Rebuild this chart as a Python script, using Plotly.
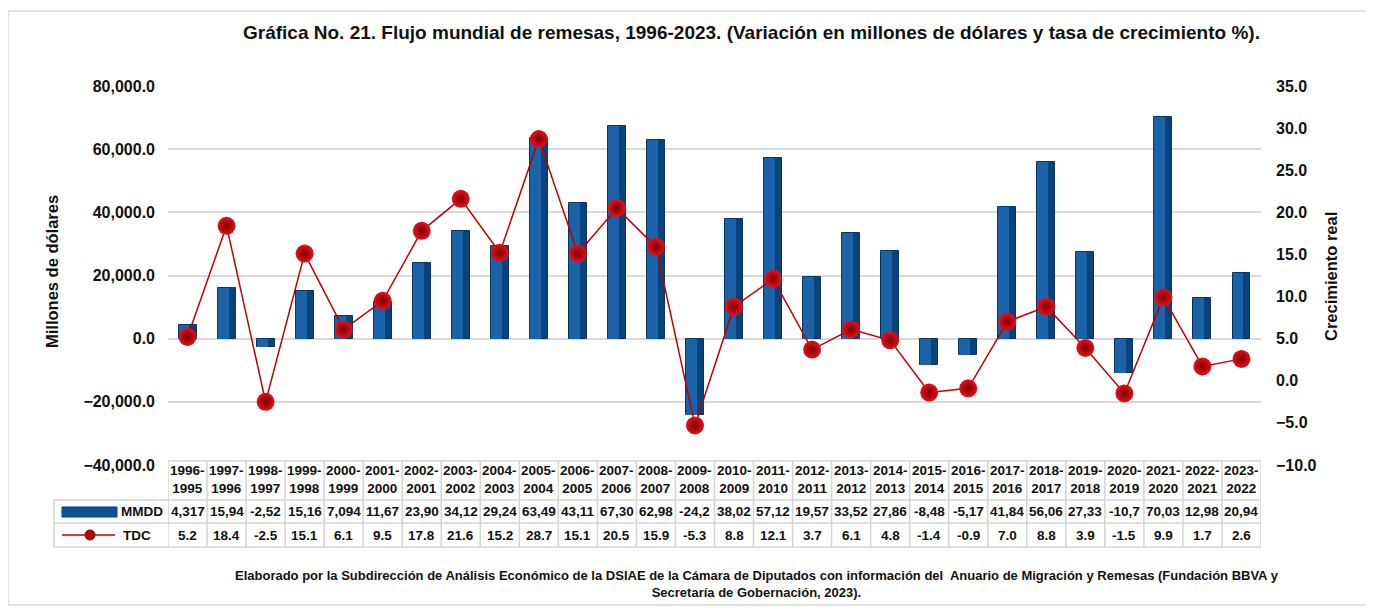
import plotly.graph_objects as go

# periodos, remesas (millones de dolares) y tasa de crecimiento
periodos = ["1996-1995", "1997-1996", "1998-1997", "1999-1998", "2000-1999",
            "2001-2000", "2002-2001", "2003-2002", "2004-2003", "2005-2004",
            "2006-2005", "2007-2006", "2008-2007", "2009-2008", "2010-2009",
            "2011-2010", "2012-2011", "2013-2012", "2014-2013", "2015-2014",
            "2016-2015", "2017-2016", "2018-2017", "2019-2018", "2020-2019",
            "2021-2020", "2022-2021", "2023-2022"]
mmdd = [4317, 15945, -2525, 15165, 7094, 11675, 23905, 34125, 29245, 63495,
        43115, 67305, 62985, -24250, 38025, 57125, 19575, 33525, 27865, -8485,
        -5175, 41845, 56065, 27335, -10750, 70035, 12985, 20945]
tdc = [5.2, 18.4, -2.5, 15.1, 6.1, 9.5, 17.8, 21.6, 15.2, 28.7, 15.1, 20.5,
       15.9, -5.3, 8.8, 12.1, 3.7, 6.1, 4.8, -1.4, -0.9, 7.0, 8.8, 3.9, -1.5,
       9.9, 1.7, 2.6]

titulo = ("Gráfica No. 21. Flujo mundial de remesas, 1996-2023. (Variación en "
          "millones de dólares y tasa de crecimiento %).")
fuente = ("Elaborado por la Subdirección de Análisis Económico de la DSIAE de la "
          "Cámara de Diputados con información del  Anuario de Migración y "
          "Remesas (Fundación BBVA y<br>Secretaría de Gobernación, 2023).")

# la pagina deja 8px de margen en el body, se compensa aqui
OFF = 8
W, H = 1374 - OFF, 608 - OFF
L, R, T, B = 168, 1261, 86, 465  # en pixeles de la captura
FONT = "Arial, Liberation Sans, sans-serif"
GRID = "#d9d9d9"
TBL = "#d4d4d4"


def px(x):
    return (x - L) / (R - L)


def py(y):
    return (B - y) / (B - T)


def nota(x, y, text, size, xref="paper", **kw):
    d = dict(x=x, y=py(y), xref=xref, yref="paper", text=f"<b>{text}</b>",
             showarrow=False, xanchor="center", yanchor="middle",
             font=dict(family=FONT, size=size, color="#111"))
    d.update(kw)
    return d


fig = go.Figure()

# barras con efecto de relieve: base oscura + franja clara
fig.add_trace(go.Bar(x=periodos, y=mmdd, width=0.46, offset=-0.23,
                     marker=dict(color="#0a437a", line=dict(color="#083764", width=1)),
                     name="MMDD", showlegend=False))
fig.add_trace(go.Bar(x=periodos, y=mmdd, width=0.28, offset=-0.23,
                     marker=dict(color="#1a63a8", line=dict(width=0)),
                     hoverinfo="skip", showlegend=False))
fig.add_trace(go.Scatter(x=periodos, y=tdc, yaxis="y2", mode="lines+markers",
                         line=dict(color="#c00000", width=1.5),
                         marker=dict(size=18, color="#e3121a",
                                     gradient=dict(type="radial", color="#7d0000"),
                                     line=dict(width=0)),
                         name="TDC", showlegend=False))

shapes = []
ann = []

# marco exterior
shapes.append(dict(type="rect", xref="paper", yref="paper",
                   x0=px(8), x1=px(1367), y0=py(605), y1=py(11),
                   line=dict(color="#d9d9d9", width=1.5), layer="below"))

# tabla de datos
rows = [461, 500, 523, 547]
shapes.append(dict(type="line", xref="paper", yref="paper", x0=px(L), x1=px(R),
                   y0=py(rows[0]), y1=py(rows[0]), line=dict(color=TBL, width=1.5)))
for yy in rows[1:]:
    shapes.append(dict(type="line", xref="paper", yref="paper", x0=px(54), x1=px(R),
                       y0=py(yy), y1=py(yy), line=dict(color=TBL, width=1.5)))
for i in range(len(periodos) + 1):
    shapes.append(dict(type="line", xref="x", yref="paper", x0=i - 0.5, x1=i - 0.5,
                       y0=py(rows[3]), y1=py(rows[0]), line=dict(color=TBL, width=1.5)))
shapes.append(dict(type="line", xref="paper", yref="paper", x0=px(54), x1=px(54),
                   y0=py(rows[3]), y1=py(rows[1]), line=dict(color=TBL, width=1.5)))

for p, v, t in zip(periodos, mmdd, tdc):
    a, b = p.split("-")
    ann.append(nota(p, 479, f"{a}-<br>{b}", 13.5, xref="x"))
    ann.append(nota(p, 511.5, f"{v:,}"[:5], 13.5, xref="x"))
    ann.append(nota(p, 535.5, f"{t:.1f}", 13.5, xref="x"))

# simbolos de leyenda dentro de la tabla
shapes.append(dict(type="rect", xref="paper", yref="paper", x0=px(62), x1=px(117),
                   y0=py(517), y1=py(507), fillcolor="#10528f",
                   line=dict(color="#0a3f70", width=1)))
shapes.append(dict(type="line", xref="paper", yref="paper", x0=px(62), x1=px(115),
                   y0=py(535), y1=py(535), line=dict(color="#c00000", width=1.5)))
shapes.append(dict(type="circle", xref="paper", yref="paper", x0=px(85), x1=px(95),
                   y0=py(540), y1=py(530), fillcolor="#b80000",
                   line=dict(color="#8a0000", width=1)))
ann.append(nota(px(119), 511.5, "MMDD", 13.5, xanchor="left"))
ann.append(nota(px(121), 535.5, "TDC", 13.5, xanchor="left"))

# titulos
ann.append(nota(px(751), 33, titulo, 19))
ann.append(nota(px(52), 272, "Millones de dólares", 16.5, textangle=-90))
ann.append(nota(px(1331), 277, "Crecimiento real", 16.5, textangle=-90))
ann.append(nota(px(757), 584, fuente, 13))

fig.update_layout(
    width=W, height=H,
    margin=dict(l=L - OFF, r=W - (R - OFF), t=T - OFF, b=H - (B - OFF), pad=0),
    paper_bgcolor="white", plot_bgcolor="white",
    font=dict(family=FONT, color="#111", size=14),
    barmode="overlay", bargap=0,
    xaxis=dict(type="category", showticklabels=False, showgrid=False,
               zeroline=False, showline=False, range=[-0.5, len(periodos) - 0.5]),
    yaxis=dict(range=[-40000, 80000], dtick=20000, tickformat=",.1f",
               showgrid=True, gridcolor=GRID, gridwidth=1.5, zeroline=False,
               ticklabelstandoff=12, tickfont=dict(size=16, color="#111")),
    yaxis2=dict(range=[-10, 35], dtick=5, tickformat=".1f", overlaying="y",
                side="right", showgrid=False, zeroline=False,
                ticklabelstandoff=14, tickfont=dict(size=16, color="#111")),
    shapes=shapes, annotations=ann,
)
fig.update_yaxes(tickprefix="<b>", ticksuffix="</b>")

fig.write_html("out.html")
